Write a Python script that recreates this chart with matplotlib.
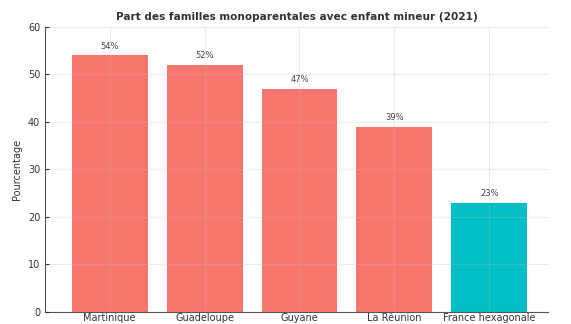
import matplotlib
matplotlib.use("Agg")
import matplotlib.pyplot as plt

territoires = ["Martinique", "Guadeloupe", "Guyane", "La Réunion", "France hexagonale"]
pourcentages = [54, 52, 47, 39, 23]
couleurs = ["#F8766D", "#F8766D", "#F8766D", "#F8766D", "#00BFC4"]


def main():
    fig = plt.figure(figsize=(5.71, 3.24), dpi=100)
    ax = fig.add_axes([0.079, 0.037, 0.881, 0.88])

    x = range(len(territoires))
    bars = ax.bar(x, pourcentages, width=0.8, color=couleurs, zorder=1)
    for b, v in zip(bars, pourcentages):
        ax.text(b.get_x() + b.get_width() / 2, v + 1, f"{v}%",
                ha="center", va="bottom", fontsize=6, color="#444444")

    ax.set_xticks(list(x))
    ax.set_xticklabels(territoires, fontsize=7, color="#333333")
    ax.set_xlim(-0.68, 4.62)
    ax.set_ylim(0, 60)
    ax.set_yticks(range(0, 61, 10))
    ax.tick_params(axis="y", labelsize=7, colors="#333333", length=3, direction="in")
    ax.tick_params(axis="x", length=0, pad=0.5)
    ax.set_ylabel("Pourcentage", fontsize=7, color="#333333")
    ax.set_title("Part des familles monoparentales avec enfant mineur (2021)",
                 fontsize=7.6, fontweight="bold", color="#333333", pad=5)

    ax.grid(True, color="#bbbbbb", alpha=0.35, linewidth=0.6, zorder=2)
    ax.set_axisbelow(False)
    for s in ["top", "right"]:
        ax.spines[s].set_visible(False)
    for s in ["left", "bottom"]:
        ax.spines[s].set_color("#555555")
        ax.spines[s].set_linewidth(0.8)

    fig.savefig("out.png", dpi=100)


main()
